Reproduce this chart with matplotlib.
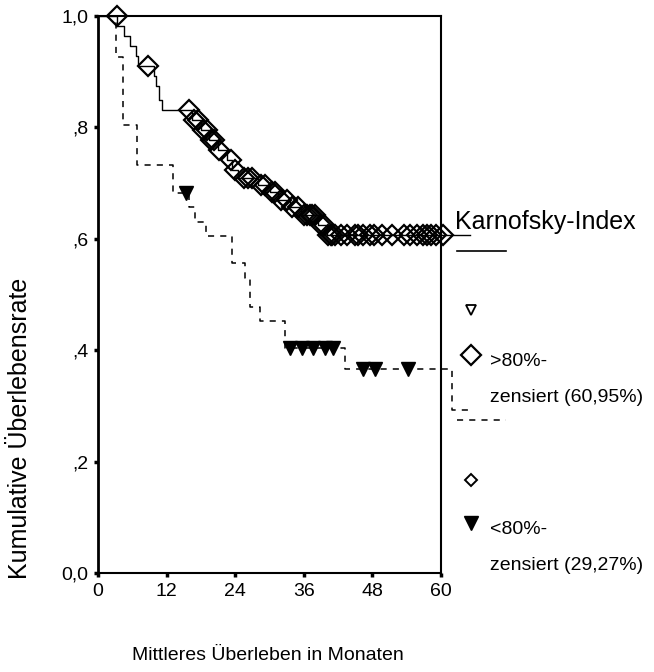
import numpy as np
import matplotlib
matplotlib.use("Agg")
import matplotlib.pyplot as plt

plt.rcParams['font.family'] = ['Liberation Sans', 'DejaVu Sans']

# ---- data ----
# group ">80%" : event times (months) and survival after each step
hi_times = [0, 3.4, 4.6, 5.6, 6.6, 7.0, 9.8, 10.2, 10.6, 11.2, 16.5, 18.0, 19.5, 21.0,
            22.5, 23.5, 24.5, 28.0, 30.0, 31.5, 33.5, 35.5, 38.5, 40.0, 65.0]
hi_surv = [1.0, 0.982, 0.964, 0.946, 0.928, 0.91, 0.892, 0.874, 0.85, 0.831, 0.813, 0.795,
           0.777, 0.759, 0.741, 0.723, 0.71, 0.697, 0.684, 0.67, 0.657, 0.643, 0.625, 0.607, 0.607]
hi_censored = [3.3, 8.8, 16.0, 16.8, 17.5, 18.3, 19.0, 19.8, 20.3, 21.2, 23.3, 24.0, 25.5,
               26.3, 27.0, 28.5, 29.3, 30.5, 31.0, 32.0, 33.0, 34.0, 35.0, 36.0, 36.5, 37.0,
               37.5, 38.0, 39.0, 39.5, 40.3, 40.8, 41.0, 41.5, 42.5, 43.5, 45.0, 45.5, 46.4,
               47.5, 48.3, 49.6, 51.5, 53.5, 54.5, 55.8, 56.8, 57.5, 58.3, 59.2, 60.3]

# group "<80%"
lo_times = [0, 3.2, 4.4, 6.8, 13.1, 16.0, 17.0, 18.9, 23.4, 25.7, 26.6, 28.3, 32.7, 43.2,
            62.0, 65.3]
lo_surv = [1.0, 0.927, 0.805, 0.733, 0.683, 0.657, 0.63, 0.605, 0.557, 0.53, 0.478, 0.452,
           0.404, 0.367, 0.293, 0.293]
lo_censored = [15.4, 33.6, 35.7, 37.6, 39.7, 41.1, 46.4, 48.5, 54.2]

x_ticks = [0, 12, 24, 36, 48, 60]
y_ticks = [0.0, 0.2, 0.4, 0.6, 0.8, 1.0]
y_ticklabels = ["0,0", ",2", ",4", ",6", ",8", "1,0"]

legend_title = "Karnofsky-Index"
hi_label = [">80%-", "zensiert (60,95%)"]
lo_label = ["<80%-", "zensiert (29,27%)"]
x_label = "Mittleres Überleben in Monaten"
y_label = "Kumulative Überlebensrate"


def surv_at(times, surv, t):
    idx = np.searchsorted(np.asarray(times), t, side='right') - 1
    return np.asarray(surv)[idx]


W, H = 654, 672
fig = plt.figure(figsize=(W / 100, H / 100), dpi=100)
ax = fig.add_axes([98 / W, 1 - 573 / H, (441 - 98) / W, (573 - 16) / H])

ax.step(hi_times, hi_surv, where='post', color='black', lw=1.0, clip_on=False, zorder=3)
ax.step(lo_times, lo_surv, where='post', color='black', lw=1.1, linestyle=(0, (4, 4)),
        clip_on=False, zorder=3)

ax.plot(hi_censored, surv_at(hi_times, hi_surv, hi_censored), linestyle='none', marker='D',
        ms=10, mfc='none', mec='black', mew=1.6, clip_on=False, zorder=4)
ax.plot(lo_censored, surv_at(lo_times, lo_surv, lo_censored), linestyle='none', marker='v',
        ms=10, mfc='black', mec='black', clip_on=False, zorder=4)

ax.set_xlim(0, 60)
ax.set_ylim(0, 1.0)
ax.set_xticks(x_ticks)
ax.set_xticklabels([str(v) for v in x_ticks], fontsize=14)
ax.set_yticks(y_ticks)
ax.set_yticklabels(y_ticklabels, fontsize=14)
ax.tick_params(direction='out', length=3, width=2.5, pad=4)
for s in ax.spines.values():
    s.set_linewidth(1.5)
ax.spines['left'].set_linewidth(2.0)

fig.text(20 / W, 1 - 428 / H, y_label, rotation=90, ha='center', va='center', fontsize=18)
fig.text(268 / W, 1 - 655 / H, x_label, ha='center', va='center', fontsize=14)

# legend drawn in pixel coordinates on an overlay
ov = fig.add_axes([0, 0, 1, 1], zorder=5)
ov.set_xlim(0, W)
ov.set_ylim(H, 0)
ov.axis('off')
ov.patch.set_alpha(0)

ov.text(455, 222, legend_title, fontsize=18, ha='left', va='center')
ov.plot([457, 506], [251, 251], color='black', lw=1.2)
ov.plot([471], [310], marker='v', ms=7, mfc='white', mec='black', mew=1.3)
ov.plot([471], [355], marker='D', ms=10, mfc='white', mec='black', mew=1.6)
ov.text(490, 362, hi_label[0], fontsize=14, ha='left', va='center')
ov.text(490, 397, hi_label[1], fontsize=14, ha='left', va='center')
ov.plot([457, 506], [420, 420], color='black', lw=1.1, linestyle=(0, (4, 4)))
ov.plot([471], [480], marker='D', ms=6, mfc='white', mec='black', mew=1.4)
ov.plot([471], [523], marker='v', ms=10, mfc='black', mec='black')
ov.text(490, 530, lo_label[0], fontsize=14, ha='left', va='center')
ov.text(490, 565, lo_label[1], fontsize=14, ha='left', va='center')

fig.savefig("out.png", dpi=100)
